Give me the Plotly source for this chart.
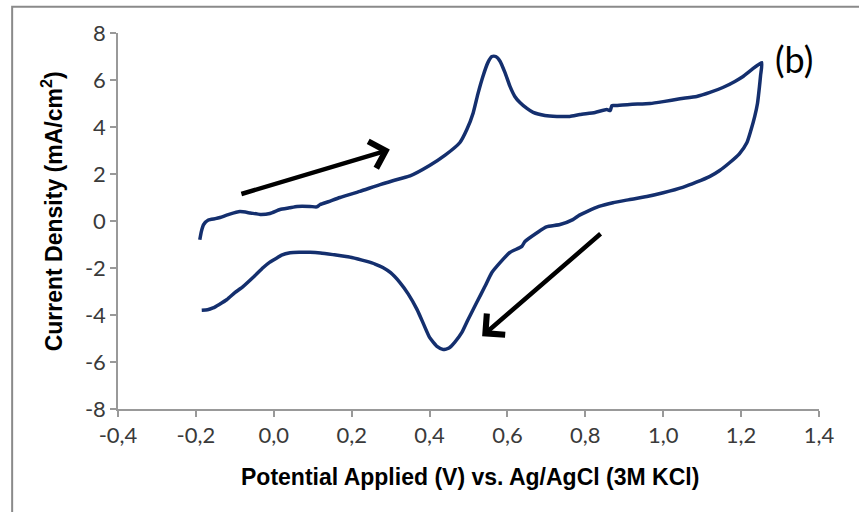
import plotly.graph_objects as go

# Cyclic voltammogram: anodic (forward) sweep then cathodic (reverse) sweep
potential_forward = [
    -0.190, -0.186, -0.180, -0.168, -0.150, -0.138, -0.115, -0.087, -0.060,
    -0.035, -0.010, 0.016, 0.040, 0.060, 0.093, 0.110, 0.119, 0.140, 0.170,
    0.221, 0.273, 0.324, 0.350, 0.400, 0.440, 0.478, 0.496, 0.512, 0.524,
    0.537, 0.550, 0.560, 0.570, 0.581, 0.594, 0.606, 0.619, 0.632, 0.650,
    0.666, 0.696, 0.727, 0.760, 0.786, 0.825, 0.855, 0.864, 0.868, 0.876,
    0.914, 0.966, 1.000, 1.043, 1.086, 1.120, 1.153, 1.184, 1.205, 1.228,
    1.253,
]
current_forward = [
    -0.80, -0.45, -0.15, 0.04, 0.10, 0.15, 0.28, 0.40, 0.34,
    0.28, 0.32, 0.49, 0.56, 0.62, 0.62, 0.60, 0.70, 0.82, 1.00,
    1.26, 1.55, 1.80, 1.92, 2.36, 2.80, 3.34, 3.90, 4.60, 5.40,
    6.15, 6.75, 7.00, 7.00, 6.80, 6.30, 5.75, 5.30, 5.04, 4.79,
    4.62, 4.49, 4.45, 4.45, 4.53, 4.62, 4.74, 4.70, 4.91, 4.91,
    4.96, 5.00, 5.08, 5.20, 5.30, 5.47, 5.68, 5.94, 6.15, 6.45,
    6.74,
]
potential_reverse = [
    1.250, 1.247, 1.242, 1.235, 1.225, 1.215, 1.195, 1.171, 1.145, 1.120,
    1.085, 1.050, 1.000, 0.958, 0.910, 0.871, 0.835, 0.804, 0.785, 0.768,
    0.735, 0.700, 0.676, 0.645, 0.637, 0.606, 0.581, 0.560, 0.542, 0.521,
    0.499, 0.483, 0.465, 0.450, 0.435, 0.420, 0.400, 0.385, 0.368, 0.345,
    0.324, 0.300, 0.280, 0.260, 0.239, 0.200, 0.152, 0.120, 0.093, 0.065,
    0.042, 0.020, 0.008, -0.010, -0.027, -0.050, -0.079, -0.100, -0.120,
    -0.140, -0.156, -0.170, -0.185,
]
current_reverse = [
    6.20, 5.70, 5.00, 4.45, 3.85, 3.34, 2.85, 2.49, 2.15, 1.90,
    1.65, 1.43, 1.20, 1.04, 0.90, 0.78, 0.62, 0.40, 0.25, 0.06,
    -0.15, -0.25, -0.50, -0.87, -1.08, -1.34, -1.77, -2.19, -2.79, -3.47,
    -4.19, -4.74, -5.15, -5.40, -5.47, -5.35, -4.95, -4.40, -3.77, -3.10,
    -2.62, -2.20, -1.98, -1.83, -1.72, -1.55, -1.43, -1.36, -1.33, -1.33,
    -1.35, -1.45, -1.57, -1.75, -1.98, -2.35, -2.79, -3.05, -3.34,
    -3.55, -3.70, -3.78, -3.80,
]

x_tick_values = [-0.4, -0.2, 0.0, 0.2, 0.4, 0.6, 0.8, 1.0, 1.2, 1.4]
x_tick_labels = ["-0,4", "-0,2", "0,0", "0,2", "0,4", "0,6", "0,8", "1,0", "1,2", "1,4"]
y_tick_values = [-8, -6, -4, -2, 0, 2, 4, 6, 8]
y_tick_labels = ["-8", "-6", "-4", "-2", "0", "2", "4", "6", "8"]

# Sweep-direction arrows: (tail_x, tail_y, tip_x, tip_y) in data units
sweep_arrows = [
    (-0.087, 1.13, 0.298, 3.04),
    (0.843, -0.49, 0.535, -4.90),
]

fig = go.Figure()
fig.add_trace(go.Scatter(
    x=potential_forward + potential_reverse,
    y=current_forward + current_reverse,
    mode="lines",
    line=dict(color="#142f6e", width=3.5, shape="spline", smoothing=0.5),
    showlegend=False,
    hoverinfo="skip",
))

for tx, ty, hx, hy in sweep_arrows:
    fig.add_annotation(
        x=hx, y=hy, ax=tx, ay=ty,
        xref="x", yref="y", axref="x", ayref="y",
        showarrow=True, arrowhead=4, arrowsize=1.2, arrowwidth=4.5,
        arrowcolor="black", text="",
    )

axis_color = "#999999"
tick_font = dict(family="Lato, Open Sans, sans-serif", size=22, color="#3a3a3a")

fig.update_xaxes(
    range=[-0.4, 1.4], tickvals=x_tick_values, ticktext=x_tick_labels,
    showgrid=False, zeroline=False, showline=True, linecolor=axis_color,
    linewidth=1.5, ticks="outside", ticklen=6, tickcolor=axis_color,
    tickwidth=1.5, tickfont=tick_font,
)
fig.update_yaxes(
    range=[-8, 8], tickvals=y_tick_values, ticktext=y_tick_labels,
    showgrid=False, zeroline=False, showline=True, linecolor=axis_color,
    linewidth=1.5, ticks="outside", ticklen=6, tickcolor=axis_color,
    tickwidth=1.5, tickfont=tick_font,
)

title_font = dict(family="Liberation Sans, Arial, sans-serif", size=23, color="black")
fig.add_annotation(
    text="<b>Potential Applied (V) vs. Ag/AgCl (3M KCl)</b>",
    xref="paper", yref="paper", x=0.502, y=-0.181,
    xanchor="center", yanchor="middle", showarrow=False, font=title_font,
)
fig.add_annotation(
    text="<b>Current Density (mA/cm<sup>2</sup>)</b>",
    xref="paper", yref="paper", x=-0.094, y=0.526,
    xanchor="center", yanchor="middle", textangle=-90, showarrow=False,
    font=title_font,
)
fig.add_annotation(
    text="(b)", xref="paper", yref="paper", x=0.965, y=0.932,
    xanchor="center", yanchor="middle", showarrow=False,
    font=dict(family="Lato, Open Sans, sans-serif", size=36, color="black"),
)

# Chart-area frame (continues past the right and bottom edges)
fig.add_shape(
    type="rect", xref="paper", yref="paper",
    x0=-0.151, y0=-0.3, x1=1.2, y1=1.07,
    line=dict(color="#8a8a8a", width=2), layer="below",
)

fig.update_layout(
    width=859, height=512,
    margin=dict(l=118, r=40, t=33, b=103),
    paper_bgcolor="white", plot_bgcolor="white",
)

fig.write_html("out.html")
